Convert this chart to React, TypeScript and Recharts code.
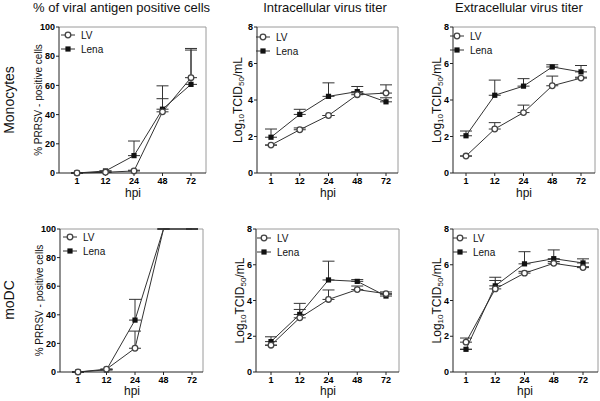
import React from "react"
import { LineChart, Line, XAxis, YAxis, ErrorBar, CartesianGrid } from "recharts"

const FONT = "'Liberation Sans', Arial, Helvetica, sans-serif"
const LINE = "#333"
const FRAME = "#9a9a9a"

// hours post infection
const hpi = ["1", "12", "24", "48", "72"]
const pctTicks = [0, 20, 40, 60, 80, 100]
const logTicks = [0, 2, 4, 6, 8]

// Monocytes - % positive cells
const monoPctLV = [0, 0.5, 1.4, 41.9, 65.3]
const monoPctLVErr = [0, 0, 0.5, 9, 20]
const monoPctLena = [0, 1.4, 11.9, 43.7, 60.7]
const monoPctLenaErr = [0, 0, 10, 16, 23.5]

// Monocytes - intracellular titer
const monoInLV = [1.53, 2.37, 3.15, 4.29, 4.38]
const monoInLVErr = [0, 0.1, 0, 0.1, 0.45]
const monoInLena = [1.96, 3.21, 4.2, 4.46, 3.9]
const monoInLenaErr = [0.45, 0.28, 0.74, 0.28, 0.22]

// Monocytes - extracellular titer
const monoExLV = [0.93, 2.41, 3.31, 4.78, 5.2]
const monoExLVErr = [0, 0.35, 0.41, 0.53, 0.05]
const monoExLena = [2.04, 4.26, 4.76, 5.81, 5.54]
const monoExLenaErr = [0.26, 0.83, 0.41, 0.12, 0.35]

// moDC - % positive cells
const dcPctLV = [0, 2, 16.6, 100, 100]
const dcPctLVErr = [0, 0, 12, 0, 0]
const dcPctLena = [0, 1.5, 36.3, 100, 100]
const dcPctLenaErr = [0, 0, 14.5, 0, 0]

// moDC - intracellular titer
const dcInLV = [1.5, 3.03, 4.06, 4.61, 4.38]
const dcInLVErr = [0, 0.47, 0.53, 0.2, 0.1]
const dcInLena = [1.7, 3.22, 5.15, 5.07, 4.25]
const dcInLenaErr = [0.27, 0.62, 1.05, 0.1, 0.1]

// moDC - extracellular titer
const dcExLV = [1.67, 4.65, 5.53, 6.08, 5.84]
const dcExLVErr = [0.23, 0.47, 0.1, 0.1, 0.05]
const dcExLena = [1.27, 4.82, 6.05, 6.34, 6.1]
const dcExLenaErr = [0, 0.48, 0.68, 0.49, 0.23]

type Cell = { cx: number; cy: number; w: number; h: number }

interface PanelProps {
  cell: Cell
  x0: number
  x1: number
  y0: number
  y1: number
  padL: number
  padR: number
  yMax: number
  yTicks: number[]
  yLabel: "pct" | "log"
  yLabelX: number
  hideTop?: boolean
  legendX: number
  legendY: number
  lv: number[]
  lvErr: number[]
  lena: number[]
  lenaErr: number[]
}

const tickStyle = { fontSize: 9, fontWeight: "bold", fill: "#000", fontFamily: FONT }

function circleDot(hideAt: number | null) {
  return (props: any) => {
    const { cx, cy, value, index } = props
    if (cx == null || cy == null || (hideAt != null && value >= hideAt)) return <g key={`c${index}`} />
    return <circle key={`c${index}`} cx={cx} cy={cy} r={2.8} fill="#fff" stroke="#444" strokeWidth={1.3} />
  }
}

function squareDot(hideAt: number | null) {
  return (props: any) => {
    const { cx, cy, value, index } = props
    if (cx == null || cy == null || (hideAt != null && value >= hideAt)) return <g key={`s${index}`} />
    return <rect key={`s${index}`} x={cx - 2.6} y={cy - 2.6} width={5.2} height={5.2} fill="#111" />
  }
}

// label wrapper: ignores the viewBox props recharts injects
function FixedLabel({ node }: { node: React.ReactNode }) {
  return <g>{node}</g>
}

function MiniLegend({ x, y }: { x: number; y: number }) {
  const row = (marker: React.ReactNode, label: string) => (
    <div style={{ display: "flex", alignItems: "center", height: 14 }}>
      <svg width={14} height={14}>
        <line x1={0} x2={14} y1={7} y2={7} stroke={LINE} />
        {marker}
      </svg>
      <span style={{ marginLeft: 6 }}>{label}</span>
    </div>
  )
  return (
    <div style={{ position: "absolute", left: x, top: y, fontFamily: FONT, fontSize: 10, color: "#111" }}>
      {row(<circle cx={7} cy={7} r={2.8} fill="#fff" stroke="#444" strokeWidth={1.3} />, "LV")}
      {row(<rect x={4.4} y={4.4} width={5.2} height={5.2} fill="#111" />, "Lena")}
    </div>
  )
}

function Panel(p: PanelProps) {
  const data = hpi.map((h, i) => ({
    hpi: h,
    lv: p.lv[i],
    lvErr: [0, p.lvErr[i]],
    lena: p.lena[i],
    lenaErr: [0, p.lenaErr[i]],
  }))
  const yW = 28
  const xH = 20
  const { cx, cy, w, h } = p.cell
  const margin = {
    top: p.y0 - cy,
    right: cx + w - p.x1,
    bottom: cy + h - p.y1 - xH,
    left: p.x0 - cx - yW,
  }
  const midY = (p.y0 + p.y1) / 2 - cy
  const lx = p.yLabelX - cx
  const yLab =
    p.yLabel === "pct" ? (
      <text
        x={lx}
        y={midY}
        transform={`rotate(-90 ${lx} ${midY})`}
        textAnchor="middle"
        dominantBaseline="central"
        fontSize={10}
        fontFamily={FONT}
        fill="#111"
      >
        % PRRSV - positive cells
      </text>
    ) : (
      <text
        x={lx}
        y={midY}
        transform={`rotate(-90 ${lx} ${midY})`}
        textAnchor="middle"
        dominantBaseline="central"
        fontSize={12}
        fontFamily={FONT}
        fill="#111"
      >
        Log
        <tspan dy={3} fontSize={8}>10</tspan>
        <tspan dy={-3}>TCID</tspan>
        <tspan dy={3} fontSize={8}>50</tspan>
        <tspan dy={-3}>/mL</tspan>
      </text>
    )
  const hideAt = p.hideTop ? p.yMax : null

  return (
    <div style={{ position: "absolute", left: cx, top: cy, width: w, height: h }}>
      <LineChart width={w} height={h} data={data} margin={margin}>
        {/* grey frame on the top and right edges of the plot */}
        <CartesianGrid
          stroke={FRAME}
          strokeWidth={1}
          horizontalPoints={[margin.top]}
          verticalPoints={[p.x1 - cx]}
        />
        <XAxis
          dataKey="hpi"
          type="category"
          interval={0}
          height={xH}
          padding={{ left: p.padL, right: p.padR }}
          tick={tickStyle}
          tickSize={3}
          tickMargin={2}
          axisLine={{ stroke: "#222" }}
          tickLine={{ stroke: "#222" }}
        />
        <YAxis
          type="number"
          domain={[0, p.yMax]}
          ticks={p.yTicks}
          interval={0}
          width={yW}
          tick={tickStyle}
          tickSize={3}
          tickMargin={1}
          axisLine={{ stroke: "#222" }}
          tickLine={{ stroke: "#222" }}
          label={<FixedLabel node={yLab} />}
        />
        <Line
          dataKey="lena"
          stroke={LINE}
          strokeWidth={1}
          dot={squareDot(hideAt)}
          activeDot={false}
          isAnimationActive={false}
        >
          <ErrorBar dataKey="lenaErr" direction="y" width={6} stroke={LINE} strokeWidth={1} />
        </Line>
        <Line
          dataKey="lv"
          stroke={LINE}
          strokeWidth={1}
          dot={circleDot(hideAt)}
          activeDot={false}
          isAnimationActive={false}
        >
          <ErrorBar dataKey="lvErr" direction="y" width={6} stroke={LINE} strokeWidth={1} />
        </Line>
      </LineChart>
      <MiniLegend x={p.legendX - cx} y={p.legendY - cy} />
    </div>
  )
}

const top = { cy: 0, h: 205 }
const bot = { cy: 200, h: 201 }

export default function App() {
  return (
    <div style={{ position: "absolute", left: 0, top: 0, width: 600, height: 401, background: "#fff", overflow: "hidden" }}>
      <svg width={600} height={401} style={{ position: "absolute", left: 0, top: 0 }}>
        <g fontFamily={FONT} fill="#111">
          <text x={33} y={12} fontSize={13}>% of viral antigen positive cells</text>
          <text x={325} y={12} fontSize={13} textAnchor="middle">Intracellular virus titer</text>
          <text x={519} y={12} fontSize={13} textAnchor="middle">Extracellular virus titer</text>
          <text x={9} y={100} fontSize={14} textAnchor="middle" dominantBaseline="central" transform="rotate(-90 9 100)">
            Monocytes
          </text>
          <text x={9} y={300} fontSize={14} textAnchor="middle" dominantBaseline="central" transform="rotate(-90 9 300)">
            moDC
          </text>
          <text x={133} y={197} fontSize={12} textAnchor="middle">hpi</text>
          <text x={328} y={197} fontSize={12} textAnchor="middle">hpi</text>
          <text x={524} y={197} fontSize={12} textAnchor="middle">hpi</text>
          <text x={132} y={395} fontSize={12} textAnchor="middle">hpi</text>
          <text x={328} y={395} fontSize={12} textAnchor="middle">hpi</text>
          <text x={525} y={395} fontSize={12} textAnchor="middle">hpi</text>
        </g>
      </svg>

      <Panel
        cell={{ cx: 0, w: 210, ...top }}
        x0={59} x1={206} y0={27} y1={173} padL={18} padR={15}
        yMax={100} yTicks={pctTicks} yLabel="pct" yLabelX={38}
        legendX={61} legendY={28}
        lv={monoPctLV} lvErr={monoPctLVErr} lena={monoPctLena} lenaErr={monoPctLenaErr}
      />
      <Panel
        cell={{ cx: 210, w: 195, ...top }}
        x0={257} x1={398} y0={27} y1={173} padL={14} padR={12}
        yMax={8} yTicks={logTicks} yLabel="log" yLabelX={238}
        legendX={256} legendY={30}
        lv={monoInLV} lvErr={monoInLVErr} lena={monoInLena} lenaErr={monoInLenaErr}
      />
      <Panel
        cell={{ cx: 405, w: 195, ...top }}
        x0={453} x1={595} y0={27} y1={173} padL={13} padR={14}
        yMax={8} yTicks={logTicks} yLabel="log" yLabelX={437}
        legendX={450} legendY={29}
        lv={monoExLV} lvErr={monoExLVErr} lena={monoExLena} lenaErr={monoExLenaErr}
      />
      <Panel
        cell={{ cx: 0, w: 210, ...bot }}
        x0={60} x1={203} y0={229} y1={372} padL={18} padR={11}
        yMax={100} yTicks={pctTicks} yLabel="pct" yLabelX={39} hideTop
        legendX={63} legendY={230}
        lv={dcPctLV} lvErr={dcPctLVErr} lena={dcPctLena} lenaErr={dcPctLenaErr}
      />
      <Panel
        cell={{ cx: 210, w: 195, ...bot }}
        x0={256} x1={399} y0={229} y1={372} padL={15} padR={13}
        yMax={8} yTicks={logTicks} yLabel="log" yLabelX={240}
        legendX={257} legendY={231}
        lv={dcInLV} lvErr={dcInLVErr} lena={dcInLena} lenaErr={dcInLenaErr}
      />
      <Panel
        cell={{ cx: 405, w: 195, ...bot }}
        x0={453} x1={598} y0={229} y1={372} padL={13} padR={15}
        yMax={8} yTicks={logTicks} yLabel="log" yLabelX={437}
        legendX={453} legendY={231}
        lv={dcExLV} lvErr={dcExLVErr} lena={dcExLena} lenaErr={dcExLenaErr}
      />
    </div>
  )
}
